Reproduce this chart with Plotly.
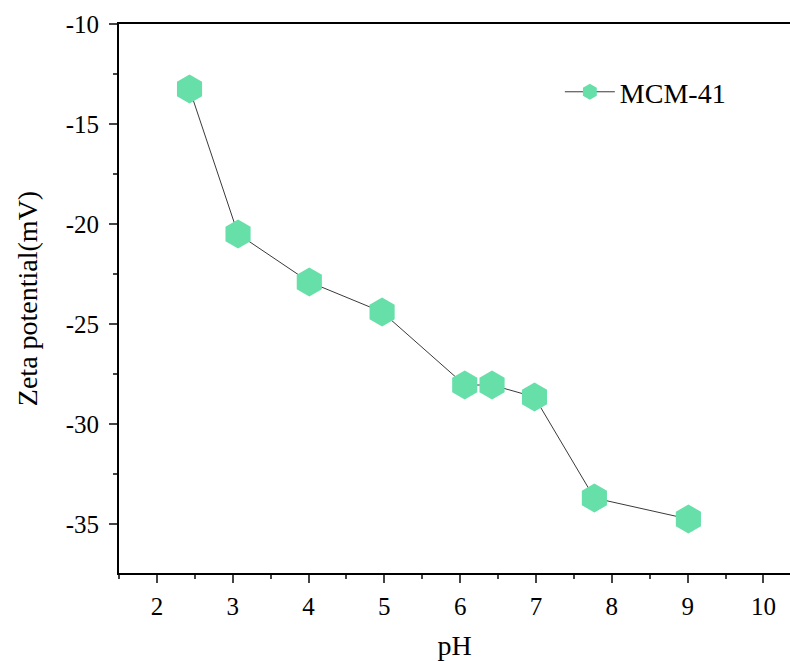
import plotly.graph_objects as go

ph = [2.43, 3.07, 4.01, 4.97, 6.06, 6.42, 6.98, 7.77, 9.01]
zeta = [-13.25, -20.5, -22.9, -24.4, -28.05, -28.05, -28.65, -33.7, -34.75]
series_name = "MCM-41"
x_ticks = [2, 3, 4, 5, 6, 7, 8, 9, 10]
y_ticks = [-35, -30, -25, -20, -15, -10]

font_family = "Liberation Serif"
tick_font = dict(family=font_family, size=25, color="black")

fig = go.Figure()
fig.add_trace(go.Scatter(
    x=ph, y=zeta, mode="lines+markers", name=series_name,
    line=dict(color="#3a3a3a", width=1),
    marker=dict(symbol="hexagon", size=29, color="#66DFA8", line=dict(width=0)),
))

fig.update_layout(
    width=790, height=661,
    margin=dict(l=119, r=0, t=24, b=88),
    paper_bgcolor="white", plot_bgcolor="white",
    font=dict(family=font_family, color="black", size=25),
    showlegend=True,
    legend=dict(x=0.657, y=0.876, xanchor="left", yanchor="middle",
                font=dict(size=28, family=font_family), bgcolor="rgba(0,0,0,0)",
                itemwidth=50),
    xaxis=dict(
        range=[1.5, 10.35], tickvals=x_ticks, ticks="outside", ticklen=8, tickwidth=2,
        showline=True, linewidth=2, linecolor="black", mirror=True,
        showgrid=False, zeroline=False, tickfont=tick_font, ticklabelstandoff=2,
        minor=dict(ticks="outside", ticklen=4, tickwidth=2, dtick=0.5, tick0=1.5, showgrid=False),
        title=dict(text="pH", font=dict(size=28, family=font_family), standoff=20),
    ),
    yaxis=dict(
        range=[-37.45, -10], tickvals=y_ticks, ticktext=[str(v) for v in y_ticks],
        ticks="outside", ticklen=8, tickwidth=2, ticklabelstandoff=5,
        showline=True, linewidth=2, linecolor="black",
        showgrid=False, zeroline=False, tickfont=tick_font,
        minor=dict(ticks="outside", ticklen=4, tickwidth=2, dtick=2.5, tick0=-10, showgrid=False),
        title=dict(text="Zeta potential(mV)", font=dict(size=28, family=font_family), standoff=20),
    ),
)

fig.write_html("out.html")
